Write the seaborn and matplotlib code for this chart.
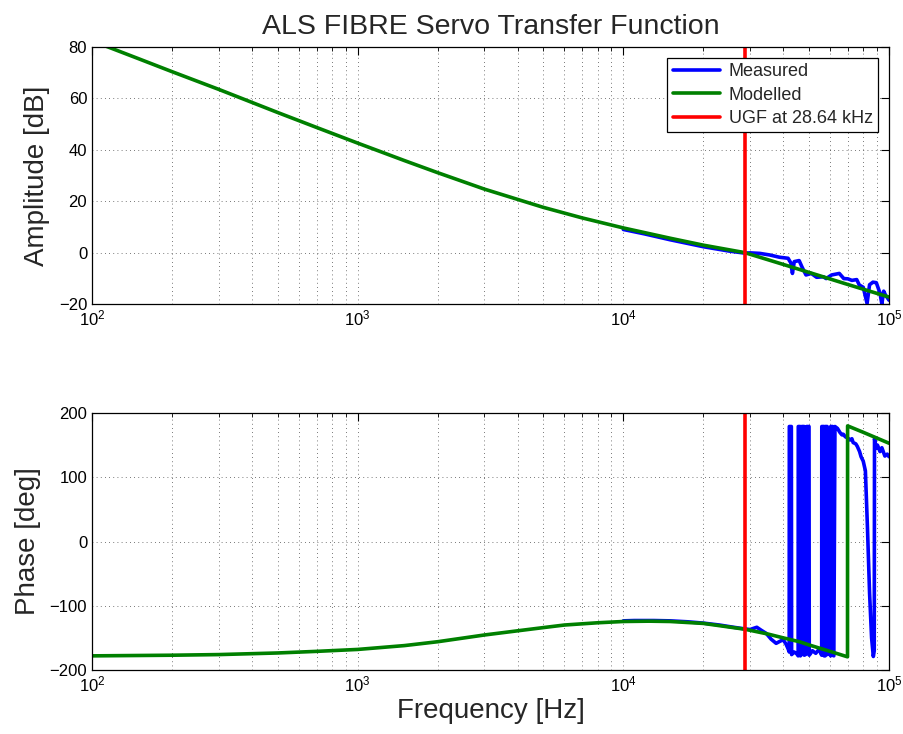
import numpy as np
import matplotlib
matplotlib.use("Agg")
import matplotlib.pyplot as plt
import seaborn as sns

# modelled response
model_freq = [100, 150, 200, 300, 500, 700, 1000, 1500, 2000, 3000, 5000, 7000,
              10000, 15000, 20000, 28640, 40000, 50000, 70000, 100000]
model_amp = [82.4, 75.4, 70.4, 63.5, 54.5, 48.7, 42.6, 35.8, 31.1, 24.7, 17.6, 13.5,
             9.6, 5.6, 2.9, 0.0, -4.6, -7.7, -12.4, -17.3]

model_ph_freq = [100, 200, 300, 500, 700, 1000, 1500, 2000, 3000, 4000, 5000, 6000,
                 8000, 10000, 12500, 15000, 20000, 28640, 35000, 40000, 46000, 50000,
                 60000, 69800, 69850, 80000, 100000]
model_phase = [-178, -177, -176, -173.5, -171, -168, -162, -156, -145.5, -139, -134, -130,
               -126.5, -124.5, -124, -124.5, -127.5, -136.5, -144, -150, -156, -161,
               -171, -179.5, 180, 170, 153]

# measured response
meas_amp_freq = [10000, 12000, 15000, 20000, 25000, 28640, 30000, 32600, 35500, 38700,
                 41700, 42700, 43300, 44000, 45900, 47000, 48700, 51000, 53400, 56600,
                 58000, 60800, 65000, 67600, 70000, 72500, 75600, 77300, 80000, 82700,
                 84500, 87000, 89600, 92500, 94000, 95500, 97000, 100000]
meas_amp = [9.0, 7.3, 5.0, 2.3, 0.6, -0.2, -0.1, -0.3, -0.9, -1.8,
            -2.2, -4.0, -8.1, -3.5, -3.1, -5.5, -8.7, -8.1, -9.6, -9.4,
            -10.1, -8.7, -8.1, -10.1, -10.2, -10.8, -10.5, -12.6, -13.5, -19.8,
            -12.5, -11.5, -11.7, -15.8, -20.0, -15.0, -16.5, -18.5]

meas_ph_freq = [10000, 11000, 13000, 15000, 17500, 20000, 23000, 26000, 28640, 30000,
                31000, 31800, 33000, 34500, 36000, 37600, 39000, 40000, 41000, 41800,
                42100, 42150, 42900, 43000, 44000, 45000, 45500, 45550, 46300, 46400,
                46800, 47000, 47900, 48000, 48900, 49000, 50000, 50100, 51500, 53000,
                54500, 55800, 55850, 56900, 57000, 57500, 57600, 58500, 58600, 59500,
                60300, 60350, 61300, 61400, 62000, 62600, 64000, 65300, 66500, 67300,
                68500, 70000, 71300, 72500, 73300, 75000, 76000, 77500, 78500, 80000,
                81500, 83000, 84500, 86000, 87300, 88000, 88200, 89500, 90500, 92500,
                94000, 96500, 98500, 100000]
meas_phase = [-123.5, -123, -123, -123.5, -125, -127, -130, -133.5, -136, -137,
              -135, -133.5, -138, -143, -152, -158.5, -155, -153, -160, -168,
              -172, 179, 179, -176, -172, -175, -178, 179, 179, -178,
              -176, 179, 179, -177, -175, 179, 179, -177, -170, -174,
              -168, -177, 179, 179, -178, -178, 179, 179, -176, -172,
              -178, 179, 179, -177, -178, 179, 176, 170, 166, 167,
              163, 161, 158, 160, 154, 152, 148, 140, 132, 125,
              110, 20, -80, -150, -179, -170, 160, 145, 150, 140,
              146, 133, 136, 132]

ugf = 28640

sns.set_style("white")
plt.rcParams['font.family'] = ['Liberation Sans', 'DejaVu Sans']

fig = plt.figure(figsize=(9.04, 7.34), dpi=100)
ax1 = fig.add_axes([0.1018, 0.5858, 0.8816, 0.3502])
ax2 = fig.add_axes([0.1018, 0.0872, 0.8816, 0.3501])

blue, green, red = (0, 0, 1), (0, 0.5, 0), (1, 0, 0)
lw = 2.6

sns.lineplot(x=meas_amp_freq, y=meas_amp, ax=ax1, color=blue, lw=lw,
             sort=False, estimator=None, label="Measured")
sns.lineplot(x=model_freq, y=model_amp, ax=ax1, color=green, lw=lw,
             sort=False, estimator=None, label="Modelled")
ax1.axvline(ugf, color=red, lw=lw, label="UGF at 28.64 kHz")

sns.lineplot(x=meas_ph_freq, y=meas_phase, ax=ax2, color=blue, lw=lw,
             sort=False, estimator=None, legend=False)
sns.lineplot(x=model_ph_freq, y=model_phase, ax=ax2, color=green, lw=lw,
             sort=False, estimator=None, legend=False)
ax2.axvline(ugf, color=red, lw=lw)

for ax, ylim, yticks in [(ax1, (-20, 80), [-20, 0, 20, 40, 60, 80]),
                         (ax2, (-200, 200), [-200, -100, 0, 100, 200])]:
    ax.set_xscale("log")
    ax.set_xlim(100, 100000)
    ax.set_ylim(*ylim)
    ax.set_yticks(yticks)
    ax.tick_params(which="both", direction="in", top=True, right=True,
                   labelsize=12, colors="k")
    ax.tick_params(which="major", length=6, width=0.8)
    ax.tick_params(which="minor", length=3, width=0.6)
    ax.grid(True, which="major", axis="both", color="k", ls=(0, (1, 4)), lw=0.6, alpha=0.7)
    ax.grid(True, which="minor", axis="x", color="k", ls=(0, (1, 4)), lw=0.6, alpha=0.7)
    for s in ax.spines.values():
        s.set_color("k")
        s.set_linewidth(0.9)
    ax.set_axisbelow(True)

ax1.set_ylabel("Amplitude [dB]", fontsize=20, labelpad=6)
ax2.set_ylabel("Phase [deg]", fontsize=20, labelpad=6)
ax2.set_xlabel("Frequency [Hz]", fontsize=20, labelpad=2)
ax1.set_xlabel("")
ax1.set_title("ALS FIBRE Servo Transfer Function", fontsize=20.5, pad=9)

leg = ax1.legend(loc="upper right", fontsize=13, fancybox=False, framealpha=1,
                 edgecolor="k", handlelength=2.6, handletextpad=0.5,
                 borderaxespad=0.6, labelspacing=0.35, borderpad=0.3)
leg.get_frame().set_linewidth(0.9)

fig.savefig("out.png", dpi=100)
